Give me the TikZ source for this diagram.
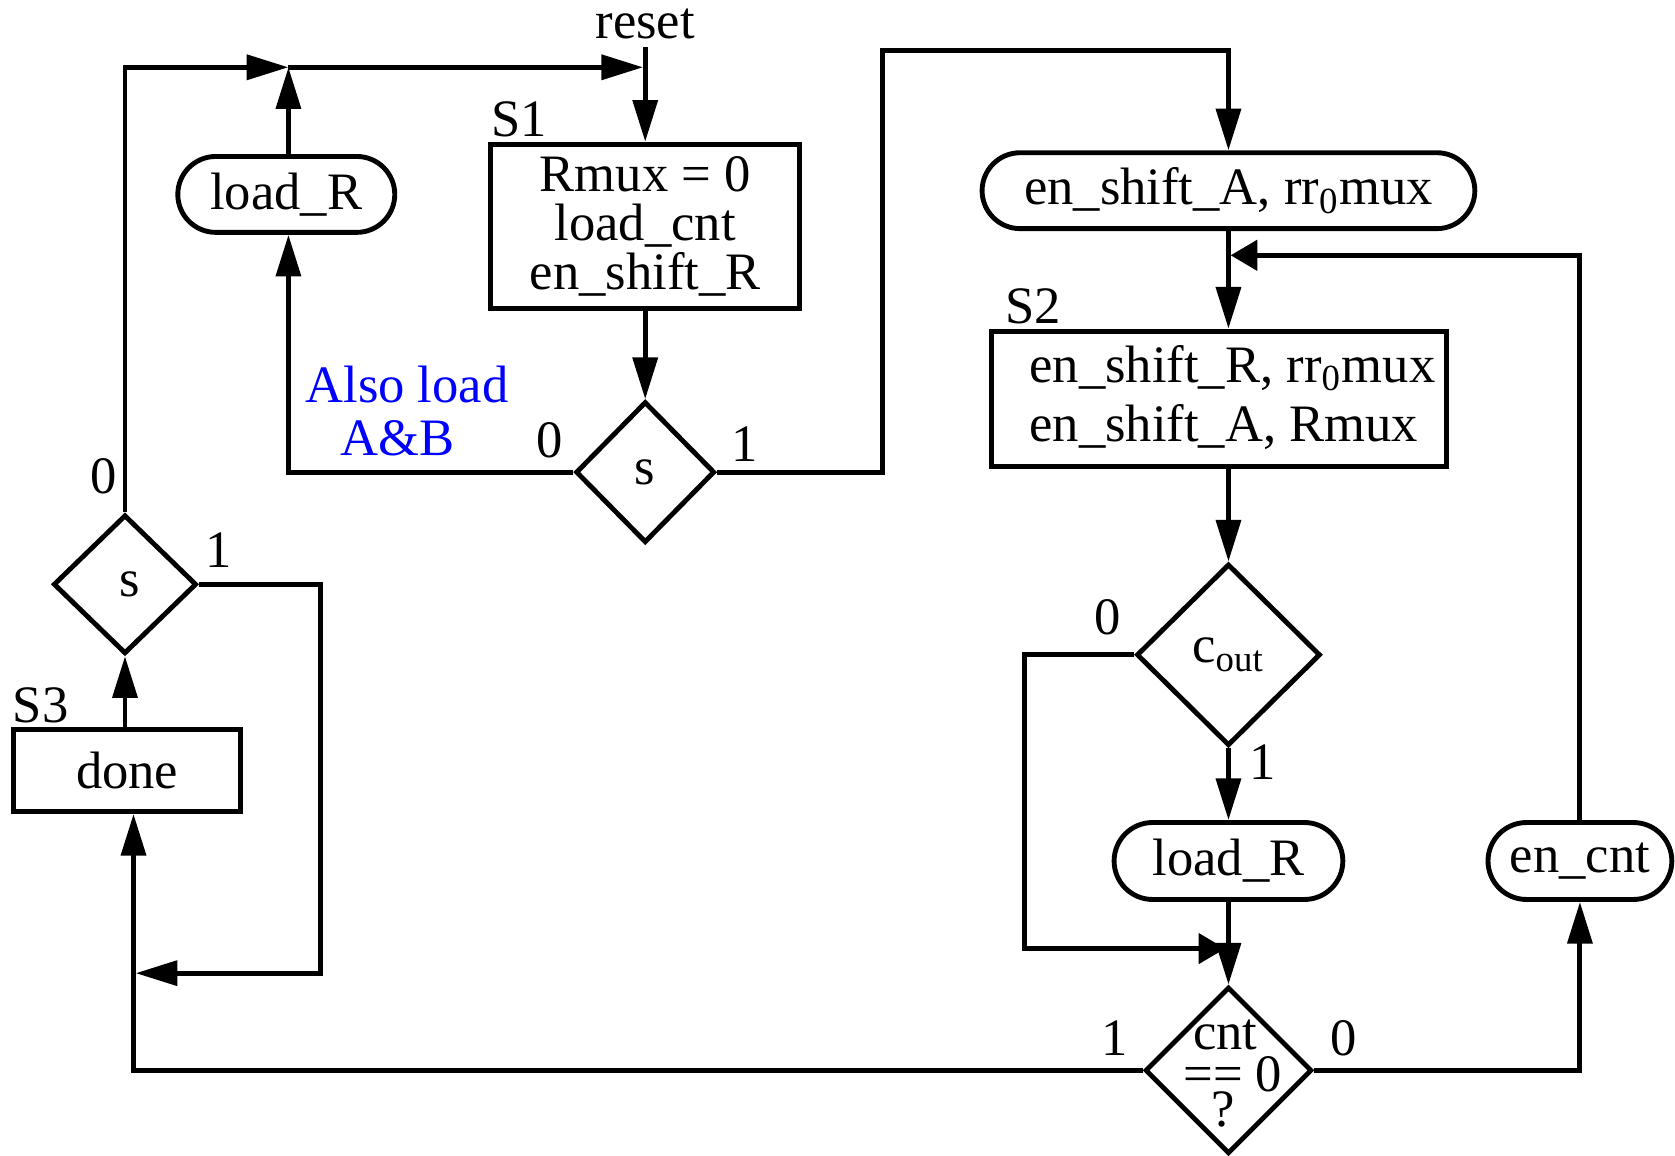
\documentclass[tikz,border=0pt]{standalone}
\usepackage{fontspec}
\setmainfont{Liberation Serif}
\usetikzlibrary{arrows.meta,shapes.geometric,shapes.misc}
\begin{document}
\begin{tikzpicture}[x=0.01cm,y=-0.01cm,
  every node/.style={font=\fontsize{14pt}{17pt}\selectfont},
  ln/.style={line width=1.3pt},
  arr/.style={ln,-{Triangle[length=0.39cm,width=0.23cm]}},
  arrs/.style={ln,-{Triangle[length=0.25cm,width=0.28cm]}},
  box/.style={draw,ln,rectangle,inner sep=0pt,align=center},
  pill/.style={draw,ln,rounded rectangle,inner sep=0pt},
  dia/.style={draw,ln,diamond,inner sep=0pt},
  lbl/.style={inner sep=0pt},
]
\useasboundingbox (0,0) rectangle (1568,1082);

% left / top part
\node[inner sep=2pt] (reset) at (604,22) {reset};
\node[box,minimum width=2.89cm,minimum height=1.54cm,font=\fontsize{14pt}{13pt}\selectfont] (s1) at (604,212) {Rmux = 0\\load\_cnt\\en\_shift\_R};
\node[lbl] (s1l) at (486,112) {S1};
\node[dia,minimum width=1.30cm,minimum height=1.32cm] (sd) at (604,442) {s};
\node[pill,minimum width=2.03cm,minimum height=0.71cm] (lr1) at (268,182) {load\_R};
\node[lbl,text=blue] (al1) at (381,360) {Also load};
\node[lbl,text=blue] (al2) at (372,410) {A\&B};
\node[lbl] (z1) at (515,412) {0};
\node[lbl] (o1) at (697,416) {1};

\node[dia,minimum width=1.34cm,minimum height=1.30cm] (sl) at (117,547) {\,s};
\node[lbl] (z2) at (97,446) {0};
\node[lbl] (o2) at (205,515) {1};
\node[box,minimum width=2.12cm,minimum height=0.77cm] (done) at (119,721.5) {done};
\node[lbl] (s3l) at (38,660) {S3};

% right part
\node[pill,minimum width=4.61cm,minimum height=0.71cm] (enA) at (1150,178.5) {en\_shift\_A, rr\textsubscript{0}mux};
\node[box,minimum width=4.26cm,minimum height=1.27cm] (s2) at (1141,373.5) {};
\node[lbl,align=left,anchor=west,font=\fontsize{14pt}{15.6pt}\selectfont] (s2t) at (963,372) {en\_shift\_R, rr\textsubscript{0}mux\\en\_shift\_A, Rmux};
\node[lbl] (s2l) at (967,287) {S2};
\node[dia,minimum width=1.72cm,minimum height=1.70cm] (cout) at (1150,613) {c\textsubscript{out}};
\node[lbl] (z3) at (1037,578) {0};
\node[lbl] (o3) at (1182,713) {1};
\node[pill,minimum width=2.14cm,minimum height=0.72cm] (lr2) at (1150,806) {load\_R};
\node[dia,minimum width=1.56cm,minimum height=1.56cm] (cnt) at (1150,1002) {};
\node[lbl] (cnta) at (1147,969) {cnt};
\node[lbl] (cntb) at (1154,1006) {== 0};
\node[lbl] (cntc) at (1145,1039) {?};
\node[lbl] (o4) at (1043,972) {1};
\node[lbl] (z4) at (1258,972) {0};
\node[pill,minimum width=1.72cm,minimum height=0.72cm] (ecnt) at (1479,806) {en\_cnt};

% junctions / corners
\coordinate (j1) at (602,63);
\coordinate (j2) at (270,63);
\coordinate (c1) at (826,47);
\coordinate (j3) at (1152,239);
\coordinate (c2) at (959,888);
\coordinate (j4) at (1147,888);
\coordinate (d1) at (125,762);
\coordinate (c4) at (300,911);
\coordinate (d2) at (127,911);

% connectors
\draw[arr] (reset.south) -- (s1.north);
\draw[arr] (s1.south) -- (sd.north);
\draw[arr] (sl.north) |- (j2);
\draw[arr] (j2) -- (j1);
\draw[arr] (lr1.north -| j2) -- (j2);
\draw[arr] (sd.west) -| (lr1.south -| j2);
\draw[arr] (sd.east) -| (c1) -| (enA.north);
\draw[arr] (enA.south) -- (enA.south |- s2.north);
\draw[arrs] (ecnt.north) |- (j3);
\draw[arr] (s2.south -| cout.north) -- (cout.north);
\draw[arr] (cout.south) -- (lr2.north);
\draw[arr] (lr2.south) -- (cnt.north);
\draw[arrs] (cout.west) -| (c2) -- (j4);
\draw[arr] (cnt.west) -| (d1);
\draw[arr] (cnt.east) -| (ecnt.south);
\draw[arr] (sl.east) -| (c4) -- (d2);
\draw[arr] (done.north -| sl.south) -- (sl.south);
\end{tikzpicture}
\end{document}
